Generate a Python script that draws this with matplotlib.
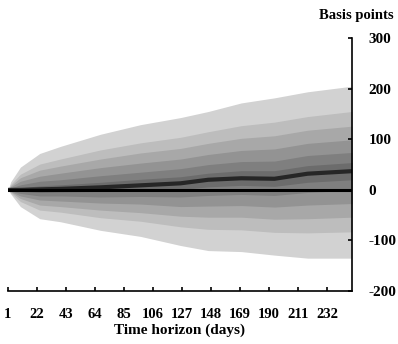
import matplotlib
matplotlib.use("Agg")
import matplotlib.pyplot as plt

# Fan chart of basis-point paths over the time horizon
days = [1, 3, 10, 24, 39, 68, 97, 126, 146, 170, 194, 218, 250]
median = [0, 0, 0, 1, 2, 5, 9, 13, 20, 23, 22, 32, 37]

# band edges, outermost first (upper, lower)
band_upper = [
    [0, 16, 45, 72, 86, 110, 129, 143, 155, 172, 182, 194, 205],
    [0, 11, 31, 51, 61, 79, 93, 104, 115, 127, 134, 145, 155],
    [0, 8, 24, 39, 47, 61, 73, 82, 92, 102, 107, 118, 126],
    [0, 6, 17, 27, 33, 44, 53, 61, 70, 78, 81, 92, 99],
    [0, 4, 10, 17, 20, 28, 35, 42, 50, 56, 57, 68, 74],
    [0, 2, 4, 8, 10, 15, 21, 26, 33, 38, 38, 48, 54],
]
band_lower = [
    [0, -8, -33, -57, -63, -80, -92, -110, -120, -122, -129, -135, -135],
    [0, -6, -23, -40, -44, -55, -62, -73, -78, -79, -84, -85, -83],
    [0, -4, -17, -30, -33, -40, -45, -52, -54, -54, -58, -57, -54],
    [0, -3, -12, -20, -22, -26, -28, -33, -32, -31, -34, -30, -27],
    [0, -2, -7, -12, -12, -14, -13, -14, -11, -9, -11, -5, -1],
    [0, -1, -3, -5, -4, -3, -1, 1, 6, 9, 7, 15, 20],
]
band_colors = ["#d2d2d2", "#bdbdbd", "#a8a8a8", "#939393", "#7f7f7f", "#6c6c6c"]

xticks = [1, 22, 43, 64, 85, 106, 127, 148, 169, 190, 211, 232]
yticks = [-200, -100, 0, 100, 200, 300]

plt.rcParams["font.family"] = ["Liberation Serif", "DejaVu Serif"]

fig = plt.figure(figsize=(3.98, 3.44), dpi=100)
ax = fig.add_axes([0.020, 0.154, 0.864, 0.735])

for up, lo, c in zip(band_upper, band_lower, band_colors):
    ax.fill_between(days, lo, up, color=c, linewidth=0)

ax.plot(days, median, color="#262626", linewidth=3)
ax.axhline(0, color="black", linewidth=2.2)

ax.set_xlim(1, 250)
ax.set_ylim(-200, 300)

ax.spines["left"].set_visible(False)
ax.spines["top"].set_visible(False)
ax.spines["right"].set_linewidth(1.2)
ax.spines["bottom"].set_linewidth(1.2)

ax.yaxis.tick_right()
ax.set_yticks(yticks)
ax.set_yticklabels([str(v) for v in yticks], fontsize=11, fontweight="bold")
ax.set_xticks(xticks)
ax.set_xticklabels([str(v) for v in xticks], fontsize=10.5, fontweight="bold")
ax.tick_params(axis="both", direction="in", length=3, width=1.2)
ax.tick_params(axis="x", pad=12)
ax.tick_params(axis="y", pad=12)

ax.set_xlabel("Time horizon (days)", fontsize=11, fontweight="bold", labelpad=2)
fig.text(0.99, 0.955, "Basis points", ha="right", va="center",
         fontsize=10.5, fontweight="bold")

fig.savefig("out.png", dpi=100)
